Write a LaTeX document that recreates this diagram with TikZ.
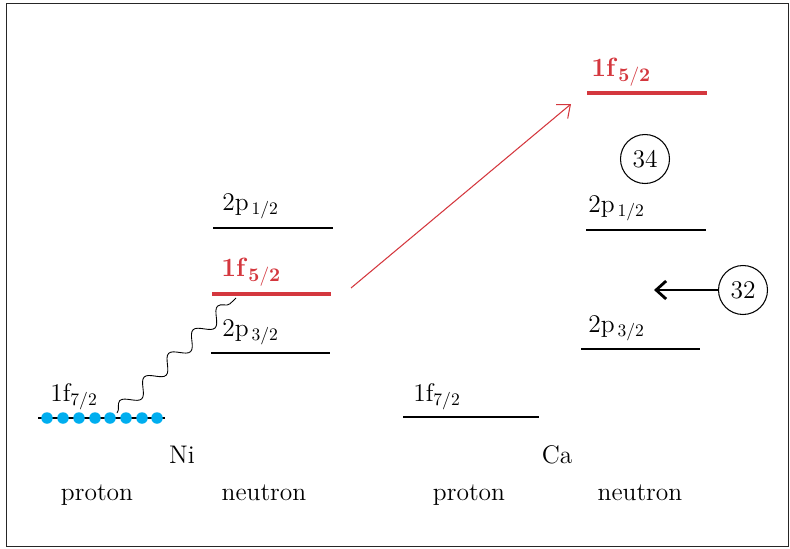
\documentclass[tikz,border=0pt]{standalone}
\usetikzlibrary{decorations.pathmorphing,arrows.meta}
\definecolor{lvlred}{RGB}{212,55,62}
\definecolor{nuccyan}{RGB}{0,174,239}
\begin{document}
\begin{tikzpicture}[
x=0.02cm,y=-0.02cm,
font=\fontsize{14.5}{17}\selectfont,
level/.style={
line width=1.4pt,
draw=black
},
redlevel/.style={
line width=2pt,
draw=lvlred
},
lbl/.style={
anchor=base west,
inner sep=0pt
},
redlbl/.style={
anchor=base west,
inner sep=0pt,
text=lvlred,
font=\fontsize{15}{17}\selectfont\bfseries
},
nucleon/.style={
circle,
fill=nuccyan,
inner sep=0pt,
minimum size=0.23cm
},
num/.style={
circle,
draw=black,
line width=0.6pt,
minimum size=0.98cm,
inner sep=0pt
},
caption/.style={
anchor=base,
inner sep=0pt
},
excite/.style={
-{Straight Barb[length=2.2mm,width=3.6mm]},
draw=lvlred,
line width=0.6pt
},
push/.style={
-{Straight Barb[length=2mm,width=3.6mm]},
line width=1.6pt
},
wiggle/.style={
decorate,
decoration={snake,segment length=0.68cm,amplitude=0.14cm},
line width=0.5pt
}
]
\useasboundingbox (0,0) rectangle (790,548);
\draw[line width=0.5pt,draw=black!85] (6,3) rectangle (788,546);

% Ni
\draw[level] (38,418) -- (165,418);
\foreach \i/\xx in {1/47,2/63,3/79,4/95,5/110,6/126,7/142,8/157}
  \node[nucleon] (p\i) at (\xx,418) {};
\node[lbl] (nipf) at (50,401) {1f$_{7/2}$};

\draw[level] (211,353) -- (330,353);
\node[lbl] (nin3) at (222,336) {2p$_{\,3/2}$};
\draw[redlevel] (212,294) -- (331,294);
\node[redlbl] (nin5) at (221,276) {1f$_{\,\mathbf{5/2}}$};
\draw[level] (213,228) -- (333,228);
\node[lbl] (nin1) at (222,210) {2p$_{\,1/2}$};

\coordinate (wstart) at (117,413);
\coordinate (wend) at (236,298);
\draw[wiggle] (wstart) -- (wend);

% Ca
\draw[level] (403,417) -- (539,417);
\node[lbl] (capf) at (413,401) {1f$_{7/2}$};

\draw[level] (581,349) -- (700,349);
\node[lbl] (can3) at (588,332) {2p$_{\,3/2}$};
\draw[level] (586,230) -- (706,230);
\node[lbl] (can1) at (588,212) {2p$_{\,1/2}$};
\draw[redlevel] (587,93) -- (707,93);
\node[redlbl] (can5) at (591,76) {1f$_{\,\mathbf{5/2}}$};

\node[num] (n34) at (645,159) {34};
\node[num] (n32) at (743,290) {32};
\coordinate (gap) at (654,290);
\draw[push] (n32) -- (gap);

\coordinate (from) at (351,288);
\coordinate (to) at (571,104);
\draw[excite] (from) -- (to);

% captions
\node[caption] (ni) at (182,463) {Ni};
\node[caption] (ca) at (557,463) {Ca};
\node[caption] (nip) at (97,500) {proton};
\node[caption] (nin) at (264,500) {neutron};
\node[caption] (cap) at (469,500) {proton};
\node[caption] (can) at (640,500) {neutron};

\end{tikzpicture}
\end{document}
